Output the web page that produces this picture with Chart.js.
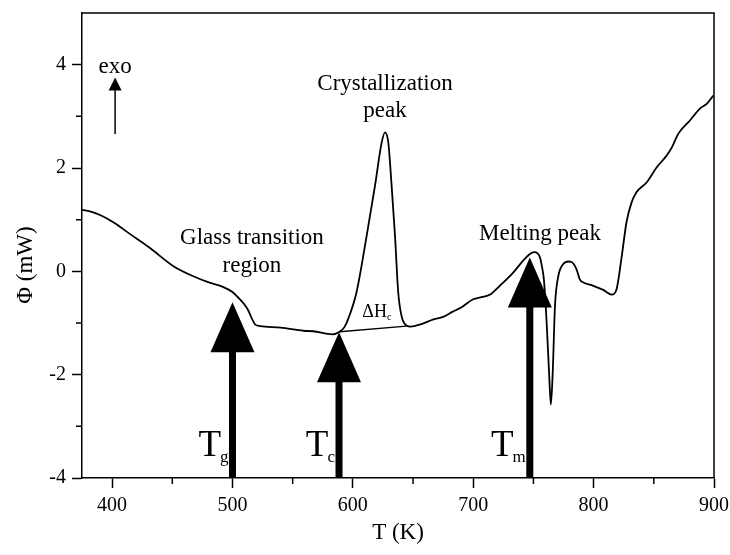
<!DOCTYPE html>
<html><head><meta charset="utf-8">
<script src="https://cdn.jsdelivr.net/npm/chart.js@4/dist/chart.umd.min.js"></script>
<style>html,body{margin:0;padding:0;background:#fff}#wrap{width:730px;height:555px}</style>
</head><body><div id="wrap"><canvas id="c" width="730" height="555"></canvas></div>
<script>
// ---- data ----
const curveT = [375,383,390,401,415,431,451,467,481,492,500,504,512,519,523,540,559,567,583,589,593,596,603,611.5,618.4,624,626.7,629.4,632.2,635,637.7,640.5,644.6,648,657,667,675,683,690,700,707,714,722,733,740,744,748,751,755.4,757,758.7,761,763,764.5,766,767.9,770.7,774.8,779,781.7,785.8,788.6,792,799.7,808,815,819,823,827.3,831.5,835.6,844,852.3,860.6,865,870.3,880,888.3,893.9,899.4];
const curvePhi = [1.19,1.15,1.09,0.95,0.72,0.46,0.10,-0.09,-0.22,-0.30,-0.40,-0.49,-0.71,-1.03,-1.06,-1.09,-1.15,-1.16,-1.22,-1.17,-1.08,-0.93,-0.41,0.69,1.66,2.50,2.69,2.50,1.66,0.69,-0.41,-0.87,-1.05,-1.07,-1.02,-0.93,-0.88,-0.78,-0.70,-0.54,-0.50,-0.45,-0.28,-0.03,0.17,0.27,0.35,0.37,0.27,0.10,-0.16,-1.00,-1.97,-2.58,-1.97,-0.67,-0.09,0.14,0.19,0.18,0.04,-0.16,-0.22,-0.28,-0.36,-0.45,-0.35,0.23,0.95,1.33,1.53,1.72,2.01,2.24,2.40,2.66,2.92,3.15,3.24,3.40];
const baselineT = [589, 644.6];
const baselinePhi = [-1.17, -1.06];
const arrowT = [500, 588.5, 747];
const arrowTipPhi = [-0.60, -1.18, 0.27];
const arrowSub = ['g', 'c', 'm'];
const exoT = 402.5, exoFromPhi = 2.66, exoToPhi = 3.75;
const xTickLabels = [400, 500, 600, 700, 800, 900];
const xMinorTicks = [450, 550, 650, 750, 850];
const yTickLabels = [-4, -2, 0, 2, 4];
const yMinorTicks = [-3, -1, 1, 3];
const noteTexts = ['Crystallization', 'peak', 'Glass transition', 'region', 'Melting peak', 'exo'];
// annotation anchors (data coords, text baseline)
const noteAnchors = [[626.7,3.51],[626.7,2.99],[516.2,0.52],[516.2,-0.02],[755.4,0.60],[402.5,3.83]];
const dHAnchor = [620, -0.89];

const SERIF = '"Liberation Serif", "Times New Roman", serif';

const overlay = {
  id: 'overlay',
  afterDatasetsDraw(chart) {
    const ctx = chart.ctx, xs = chart.scales.x, ys = chart.scales.y, a = chart.chartArea;
    ctx.save();
    // frame top/right
    ctx.strokeStyle = '#000'; ctx.lineWidth = 1.5;
    ctx.beginPath();
    ctx.moveTo(a.left, a.top); ctx.lineTo(a.right, a.top); ctx.lineTo(a.right, a.bottom);
    ctx.stroke();
    // minor ticks
    ctx.beginPath();
    xMinorTicks.forEach(v => { const p = xs.getPixelForValue(v); ctx.moveTo(p, a.bottom); ctx.lineTo(p, a.bottom + 6); });
    yMinorTicks.forEach(v => { const p = ys.getPixelForValue(v); ctx.moveTo(a.left, p); ctx.lineTo(a.left - 6, p); });
    ctx.stroke();
    // big arrows
    ctx.fillStyle = '#000';
    arrowT.forEach((t, i) => {
      const px = xs.getPixelForValue(t), tip = ys.getPixelForValue(arrowTipPhi[i]);
      const base = tip + 50;
      ctx.fillRect(px - 3.5, base - 2, 7, a.bottom - base + 2);
      ctx.beginPath();
      ctx.moveTo(px, tip); ctx.lineTo(px - 22, base); ctx.lineTo(px + 22, base); ctx.closePath();
      ctx.fill();
      // label T_sub
      ctx.textAlign = 'right'; ctx.textBaseline = 'alphabetic';
      ctx.font = '17px ' + SERIF;
      const subRight = px - 4;
      ctx.fillText(arrowSub[i], subRight, 462);
      const sw = ctx.measureText(arrowSub[i]).width;
      ctx.font = '37px ' + SERIF;
      ctx.fillText('T', subRight - sw + 1, 456);
    });
    // exo arrow
    const ex = xs.getPixelForValue(exoT), ey0 = ys.getPixelForValue(exoFromPhi), ey1 = ys.getPixelForValue(exoToPhi);
    ctx.lineWidth = 1.5;
    ctx.beginPath(); ctx.moveTo(ex, ey0); ctx.lineTo(ex, ey1 + 10); ctx.stroke();
    ctx.beginPath(); ctx.moveTo(ex, ey1); ctx.lineTo(ex - 6.5, ey1 + 13); ctx.lineTo(ex + 6.5, ey1 + 13); ctx.closePath(); ctx.fill();
    // notes
    ctx.textAlign = 'center'; ctx.textBaseline = 'alphabetic';
    ctx.font = '23px ' + SERIF;
    noteTexts.forEach((s, i) => {
      ctx.fillText(s, xs.getPixelForValue(noteAnchors[i][0]), ys.getPixelForValue(noteAnchors[i][1]));
    });
    // Delta H_c
    const dx = xs.getPixelForValue(dHAnchor[0]), dy = ys.getPixelForValue(dHAnchor[1]);
    ctx.font = '18px ' + SERIF; ctx.textAlign = 'right';
    ctx.fillText('\u0394H', dx + 10, dy);
    ctx.font = '10px ' + SERIF; ctx.textAlign = 'left';
    ctx.fillText('c', dx + 10, dy + 3);
    // y axis title
    ctx.translate(26, 265); ctx.rotate(-Math.PI / 2);
    ctx.font = '23px ' + SERIF; ctx.textAlign = 'center'; ctx.textBaseline = 'middle';
    ctx.fillText('\u03A6 (mW)', 0, 0);
    ctx.restore();
  }
};

new Chart(document.getElementById('c'), {
  type: 'scatter',
  data: { datasets: [
    { data: curveT.map((t, i) => ({ x: t, y: curvePhi[i] })), showLine: true, borderColor: '#000', borderWidth: 1.8, pointRadius: 0, cubicInterpolationMode: 'monotone' },
    { data: baselineT.map((t, i) => ({ x: t, y: baselinePhi[i] })), showLine: true, borderColor: '#000', borderWidth: 1.4, pointRadius: 0 }
  ]},
  options: {
    responsive: false, animation: false, devicePixelRatio: 1,
    layout: { padding: { left: 0, right: 16, top: 13, bottom: 0 } },
    plugins: { legend: { display: false }, tooltip: { enabled: false } },
    scales: {
      x: {
        type: 'linear', min: 375, max: 900,
        afterBuildTicks: s => { s.ticks = xTickLabels.map(v => ({ value: v })); },
        afterFit: s => { s.height = 77; s.paddingLeft = 0; s.paddingRight = 0; },
        grid: { drawOnChartArea: false, tickLength: 10, tickColor: '#000', tickWidth: 1.5 },
        border: { color: '#000', width: 1.5 },
        ticks: { color: '#000', font: { family: SERIF, size: 20 }, padding: 6, maxRotation: 0 },
        title: { display: true, text: 'T (K)', color: '#000', font: { family: SERIF, size: 23 }, padding: { top: 0, bottom: 8 } }
      },
      y: {
        min: -4, max: 5,
        afterBuildTicks: s => { s.ticks = yTickLabels.map(v => ({ value: v })); },
        afterFit: s => { s.width = 82; s.paddingTop = 0; s.paddingBottom = 0; },
        grid: { drawOnChartArea: false, tickLength: 10, tickColor: '#000', tickWidth: 1.5 },
        border: { color: '#000', width: 1.5 },
        ticks: { color: '#000', font: { family: SERIF, size: 20 }, padding: 6 }
      }
    }
  },
  plugins: [overlay]
});
</script>
</body></html>
